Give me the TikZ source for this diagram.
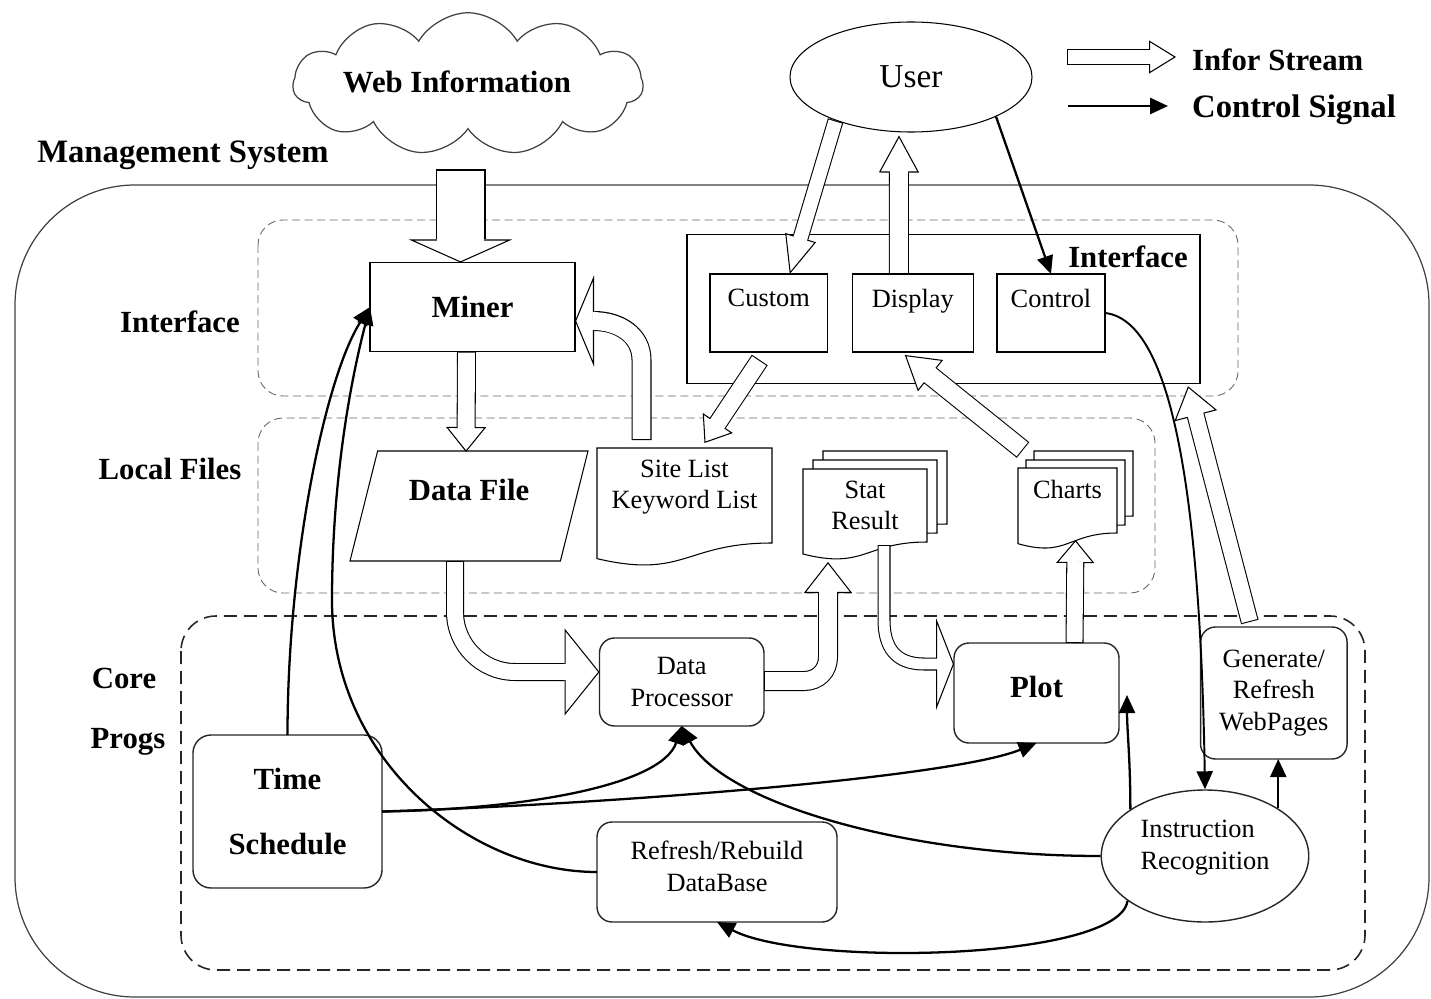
\documentclass[tikz,border=0pt]{standalone}
\usepackage{fontspec}
\setmainfont{Liberation Serif}
\usepackage{tikz}
\usetikzlibrary{shapes.geometric,shapes.symbols,arrows.meta,positioning,calc}
\pgfdeclarelayer{background}
\pgfsetlayers{background,main}

\newcommand{\lblfont}{\fontsize{17.5}{21}\selectfont\bfseries}
\newcommand{\txtfont}{\fontsize{15}{18}\selectfont}

\tikzstyle{block} = [rectangle, draw, fill=white, line width=0.6pt, outer sep=0pt]
\tikzstyle{prog} = [rectangle, draw=black!85, fill=white, line width=0.8pt,
  rounded corners=3mm, outer sep=0pt, align=center, font=\txtfont]
\tikzstyle{zone} = [draw=black!60, line width=0.5pt, dash pattern=on 1.6mm off 0.9mm, rounded corners=5mm]
\tikzstyle{ctrl} = [line width=1.3pt, -{Triangle[length=3.6mm, width=3.2mm]}]
\tikzstyle{lbl} = [font=\lblfont]
\tikzstyle{biglbl} = [font=\fontsize{18.6}{22}\selectfont\bfseries]

\tikzset{
  flow/.style={draw=black, line width=#1, line cap=butt,
    postaction={draw=white, line width=#1-1.2pt, shorten <=0.6pt, shorten >=-1pt}},
  flowhead/.style 2 args={draw=black, line width=0.6pt,
    -{Triangle[fill=white, length=#1, width=#2, line width=0.6pt]}}
}

% straight block arrow: shaft width, head length, head width, from, to
\newcommand{\hollowarrow}[5]{%
  \draw[flowhead={#2}{#3}] ($(#5)!#2!(#4)$) -- (#5);
  \draw[flow=#1] (#4) -- ($(#5)!#2!(#4)$);
}

% document outline round a node, optional shift
\newcommand{\docshape}[2][0,0]{%
  \draw[fill=white, line width=0.6pt] ($(#2.north west)+(#1)$) -- ($(#2.north east)+(#1)$)
    -- ($(#2.south east)+(#1)$)
    .. controls ($(#2.south)+(#1)$) and ($(#2.south)!-0.381!(#2.north)+(#1)$)
    .. ($(#2.south west)!-0.1646!(#2.north west)+(#1)$) -- cycle;
}

\begin{document}
\begin{tikzpicture}[x=0.2mm, y=-0.2mm]
\useasboundingbox (0,0) rectangle (1431,999);

% frames
\draw[draw=black!75, line width=0.7pt, rounded corners=24mm] (15,185) rectangle (1429,997);
\draw[zone] (258,220) rectangle (1238,396);
\draw[zone] (258,418) rectangle (1155,593);
\draw[zone, draw=black!85, line width=0.9pt, dash pattern=on 2.6mm off 1.4mm, rounded corners=7mm] (181,616) rectangle (1365,970);

% layer names
\node[biglbl] (msys) at (183,155) {Management System};
\node[lbl] (linterface) at (180,322) {Interface};
\node[lbl] (llocal) at (170,469) {Local Files};
\node[lbl] (lcore) at (124,678) {Core};
\node[lbl] (lprogs) at (128,742) {Progs};

% outside
\node[cloud, cloud puffs=11, cloud puff arc=120, cloud ignores aspect, draw=black!75, fill=white,
  line width=0.7pt, minimum width=70mm, minimum height=28.5mm] (web) at (468,84) {};
\node[lbl] (webtext) at (457,82) {Web Information};
\node[ellipse, draw, fill=white, line width=0.6pt, minimum width=48.4mm, minimum height=22mm,
  font=\fontsize{19}{22}\selectfont] (user) at (911,77) {User};

% interface
\node[block, minimum width=41mm, minimum height=17.8mm, lbl] (miner) at (472.5,307) {Miner};
\node[block, minimum width=102.6mm, minimum height=29.7mm] (ui) at (943.5,309) {};
\node[lbl] (uititle) at (1128,257) {Interface};
\node[block, font=\txtfont, text depth=6mm, minimum width=23.5mm, minimum height=15.6mm] (custom) at (768.75,313) {Custom};
\node[block, font=\txtfont, text depth=6mm, minimum width=24.3mm, minimum height=15.6mm] (display) at (912.8,313) {Display};
\node[block, font=\txtfont, text depth=6mm, minimum width=21.6mm, minimum height=15.6mm] (control) at (1051,313) {Control};

% local files
\node[trapezium, trapezium left angle=67, trapezium right angle=113, trapezium stretches body,
  draw, fill=white, line width=0.6pt, outer sep=0pt, minimum width=47.6mm, minimum height=22mm,
  text depth=6.4mm, lbl] (datafile) at (469,506) {Data File};
\node[minimum width=35mm, minimum height=19mm, outer sep=0pt, align=center, font=\txtfont,
  text depth=4.5mm] (site) at (684.5,495.5) {Site List\\Keyword List};
\node[minimum width=24.8mm, minimum height=14.6mm, outer sep=0pt, align=center, font=\txtfont] (stat) at (865,505.5) {Stat\\Result};
\node[minimum width=19.8mm, minimum height=13mm, outer sep=0pt, font=\txtfont, text depth=4.4mm] (charts) at (1067.5,500.5) {Charts};
\begin{pgfonlayer}{background}
  \docshape{site}
  \docshape[20,-18]{stat}
  \docshape[10,-9]{stat}
  \docshape{stat}
  \docshape[16,-17]{charts}
  \docshape[8,-8]{charts}
  \docshape{charts}
\end{pgfonlayer}

% core progs
\node[prog, minimum width=32.9mm, minimum height=17.6mm] (dp) at (681.75,682) {Data\\Processor};
\node[prog, minimum width=33mm, minimum height=20mm, font=\lblfont, text depth=2.4mm] (plot) at (1036.5,693) {Plot};
\node[prog, minimum width=29.3mm, minimum height=26.4mm] (gen) at (1273.8,693) {Generate/\\Refresh\\WebPages};
\node[prog, rounded corners=3.6mm, minimum width=37.8mm, minimum height=30.6mm, font=\lblfont] (time) at (287.5,811.5) {Time\\[5.6mm]Schedule};
\node[prog, minimum width=48mm, minimum height=20mm, text depth=2.4mm] (refresh) at (717,872) {Refresh/Rebuild\\DataBase};
\node[ellipse, draw=black!85, fill=white, line width=0.8pt, minimum width=41.5mm, minimum height=26.4mm,
  inner sep=0pt, align=left, font=\txtfont, text depth=4.5mm] (instr) at (1205,856) {Instruction\\Recognition};

% infor stream
\coordinate (w1) at ($(miner.north)+(-12,-93)$);
\coordinate (w2) at ($(miner.north)+(-12,0)$);
\hollowarrow{10mm}{4.6mm}{20.6mm}{w1}{w2}

\coordinate (m1) at ($(miner.south)+(-6,0)$);
\coordinate (m2) at ($(datafile.center)+(-3,-54)$);
\hollowarrow{3.8mm}{5mm}{8mm}{m1}{m2}

\coordinate (s1) at ($(site.north)+(-43,-8)$);
\coordinate (s3) at ($(miner.east)+(0,14)$);
\coordinate (s2) at ($(s3)+(19,0)$);
\draw[flowhead={3.8mm}{18.2mm}] (s2) -- (s3);
\draw[flow=4mm] (s1) -- ++(0,-80) .. controls +(0,-25) and +(25,0) .. (s2);

\coordinate (c1) at ($(custom.south)+(-9,8)$);
\coordinate (c2) at ($(site.north)+(20,-5)$);
\hollowarrow{3.8mm}{4.8mm}{7.2mm}{c1}{c2}

\coordinate (u1) at (user.210);
\coordinate (u2) at ($(custom.north)+(21,0)$);
\hollowarrow{3.2mm}{7.6mm}{6.4mm}{u1}{u2}

\coordinate (d1) at ($(display.north)+(-14,0)$);
\coordinate (d2) at ($(user.south)+(-12,3)$);
\hollowarrow{4mm}{7.4mm}{8mm}{d1}{d2}

\coordinate (h1) at ($(charts.north west)+(5,-18)$);
\coordinate (h2) at ($(display.south)+(-8,3)$);
\hollowarrow{4mm}{6.6mm}{8mm}{h1}{h2}

\coordinate (g1) at ($(gen.north)+(-24,-5)$);
\coordinate (g2) at ($(ui.south east)+(-12,3)$);
\hollowarrow{3.6mm}{6.1mm}{8.8mm}{g1}{g2}

\coordinate (p1) at ($(plot.north)+(38,0)$);
\coordinate (p2) at ($(charts.south)+(8,7)$);
\hollowarrow{3.6mm}{4.6mm}{7.6mm}{p1}{p2}

\coordinate (f1) at ($(datafile.center)+(-14,55)$);
\coordinate (f3) at ($(dp.west)+(0,-10)$);
\coordinate (f2) at ($(f3)+(-35,0)$);
\draw[flowhead={7mm}{17.4mm}] (f2) -- (f3);
\draw[flow=3.6mm] (f1) -- ++(0,51) .. controls +(0,33) and +(-33,0) .. ++(60,60) -- (f2);

\coordinate (r1) at ($(dp.east)+(0,-1)$);
\coordinate (r3) at ($(stat.south west)+(25,20)$);
\coordinate (r2) at ($(r3)+(0,31)$);
\draw[flowhead={6.2mm}{9.6mm}] (r2) -- (r3);
\draw[flow=4mm] (r1) -- ++(40,0) .. controls +(14,0) and +(0,14) .. ++(24,-24) -- (r2);

\coordinate (t1) at ($(stat.south)+(19,3)$);
\coordinate (t3) at ($(plot.west)+(0,-29)$);
\coordinate (t2) at ($(t3)+(-18,0)$);
\draw[flowhead={3.6mm}{18.4mm}] (t2) -- (t3);
\draw[flow=2.6mm] (t1) -- ++(0,75) .. controls +(0,28) and +(-28,0) .. ++(40,44) -- (t2);

% control signal
\draw[ctrl] (time.north) .. controls +(0,-175) and +(-45,70) .. (miner.west);
\draw[ctrl] (refresh.west) .. controls +(-127,0) and +(0,160) .. (332,600)
  .. controls +(0,-130) and +(-16,60) .. (miner.west);
\draw[ctrl] (time.east) .. controls +(140,-2) and +(-20,60) .. (dp.south);
\draw[ctrl] (time.east) .. controls +(220,-7) and +(-85,35) .. (plot.south);
\draw[ctrl] (instr.west) .. controls +(-200,0) and +(40,75) .. (dp.south);
\draw[ctrl] (instr.210) .. controls +(-8,60) and +(85,45) .. (refresh.south);
\draw[ctrl] (instr.148) .. controls +(0,-50) and +(0,35) .. ($(plot.east)+(8,2)$);
\draw[ctrl] (instr.33) -- (instr.33 |- gen.south);
\draw[ctrl] (user.-25) -- (control.north);
\draw[ctrl, line width=1.1pt] (control.east) .. controls +(64,7) and +(-5,-310) .. (instr.north);

% legend
\coordinate (lga) at (1067,57);
\coordinate (lgb) at (1176,57);
\hollowarrow{3.2mm}{5.4mm}{6.6mm}{lga}{lgb}
\node[lbl, anchor=west] (lgflow) at (1186,60) {Infor Stream};
\coordinate (lgc) at (1068,106);
\coordinate (lgd) at (1168,106);
\draw[ctrl, line width=1.7pt] (lgc) -- (lgd);
\node[biglbl, anchor=west] (lgctrl) at (1186,110) {Control Signal};

\end{tikzpicture}
\end{document}
